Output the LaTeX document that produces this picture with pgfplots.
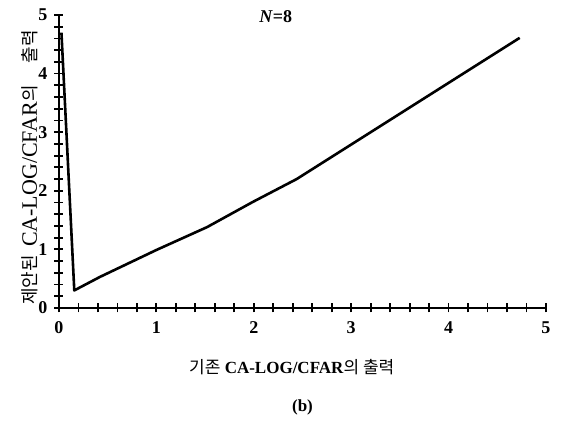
\documentclass[border=0pt]{standalone}
\usepackage{fontspec}
\setmainfont{Liberation Serif}
\newfontfamily\kr{Noto Sans CJK KR}
\usepackage{pgfplots}
\pgfplotsset{compat=1.18}
\begin{document}
\begin{tikzpicture}
\begin{axis}[
    width=243.5pt, height=146.5pt,
    scale only axis,
    axis lines*=left,
    axis line style={line width=1pt},
    xmin=0, xmax=5, ymin=0, ymax=5,
    xtick={0,1,2,3,4,5}, ytick={0,1,2,3,4,5},
    minor tick num=4,
    tick align=center,
    major tick length=4.5pt, minor tick length=4.5pt,
    tick style={black, line width=0.9pt},
    tick label style={font=\fontsize{9}{10}\selectfont\bfseries},
    /pgf/number format/assume math mode=true,
    xticklabel style={yshift=-1pt},
    xlabel={{\kr 기존} \textbf{CA-LOG/CFAR}{\kr 의 출력}},
    ylabel={{\kr\fontsize{9}{10}\selectfont 제안된}\hspace{4pt}CA-LOG/CFAR{\kr\fontsize{9}{10}\selectfont 의}\hspace{11pt}{\kr\fontsize{9}{10}\selectfont 출력}},
    xlabel style={font=\fontsize{8.5}{10}\selectfont, at={(axis description cs:0.478,0)}, anchor=north, yshift=-22pt},
    ylabel style={font=\fontsize{11}{12}\selectfont, at={(axis description cs:0,0.48)}, anchor=center, yshift=14.5pt},
    clip=false,
]
\addplot[black, line width=1.3pt, line join=round]
    coordinates {(0.025,4.7)(0.157,0.30)(0.42,0.53)(1.0,0.99)(1.52,1.38)(1.99,1.81)(2.44,2.20)(4.73,4.61)};
\node[font=\fontsize{9}{10}\selectfont\bfseries] at (rel axis cs:0.445,0.995) {\textit{N}=8};
\node[font=\fontsize{8.5}{10}\selectfont\bfseries] at (rel axis cs:0.5,-0.34) {(b)};
\coordinate (O) at (rel axis cs:0,0);
\coordinate (T) at (rel axis cs:1,1);
\end{axis}
\pgfresetboundingbox
\path ([shift={(-29.5pt,-57pt)}]O) rectangle ([shift={(11.5pt,7.5pt)}]T);
\end{tikzpicture}
\end{document}
